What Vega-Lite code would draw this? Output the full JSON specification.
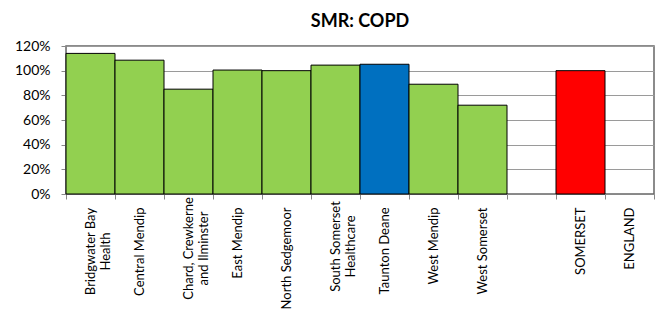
{
  "$schema": "https://vega.github.io/schema/vega-lite/v6.json",
  "autosize": {"type": "none"},
  "width": 588,
  "height": 148,
  "padding": {"left": 66, "top": 46, "right": 15, "bottom": 133},
  "background": "white",
  "title": {"text": "SMR: COPD", "font": "Lato", "fontSize": 18, "fontWeight": "bold", "color": "#000000", "offset": 8, "anchor": "middle", "frame": "group"},
  "data": {"values": [
    {"area": "Bridgwater Bay Health", "smr": 1.14, "group": "locality"},
    {"area": "Central Mendip", "smr": 1.085, "group": "locality"},
    {"area": "Chard, Crewkerne and Ilminster", "smr": 0.85, "group": "locality"},
    {"area": "East Mendip", "smr": 1.005, "group": "locality"},
    {"area": "North Sedgemoor", "smr": 1.0, "group": "locality"},
    {"area": "South Somerset Healthcare", "smr": 1.045, "group": "locality"},
    {"area": "Taunton Deane", "smr": 1.052, "group": "highlight"},
    {"area": "West Mendip", "smr": 0.89, "group": "locality"},
    {"area": "West Somerset", "smr": 0.72, "group": "locality"},
    {"area": " ", "smr": null, "group": "locality"},
    {"area": "SOMERSET", "smr": 1.0, "group": "county"},
    {"area": "ENGLAND", "smr": null, "group": "county"}
  ]},
  "mark": {"type": "bar", "stroke": "#000000", "strokeWidth": 1},
  "encoding": {
    "x": {
      "field": "area", "type": "nominal", "sort": null,
      "scale": {"domain": ["Bridgwater Bay Health", "Central Mendip", "Chard, Crewkerne and Ilminster", "East Mendip", "North Sedgemoor", "South Somerset Healthcare", "Taunton Deane", "West Mendip", "West Somerset", " ", "SOMERSET", "ENGLAND"], "paddingInner": 0, "paddingOuter": 0},
      "axis": {
        "title": null, "labelAngle": -90, "labelFont": "Lato", "labelFontSize": 13, "labelColor": "#000000",
        "labelAlign": {"condition": {"test": "indexof(['Bridgwater Bay Health', 'Chard, Crewkerne and Ilminster', 'South Somerset Healthcare'], datum.value) >= 0", "value": "center"}, "value": "right"},
        "labelPadding": {"condition": [
          {"test": "datum.value == 'Bridgwater Bay Health'", "value": 52},
          {"test": "datum.value == 'Chard, Crewkerne and Ilminster'", "value": 49},
          {"test": "datum.value == 'South Somerset Healthcare'", "value": 47}
        ], "value": 8},
        "labelBaseline": "middle", "labelLineHeight": 15,
        "labelExpr": "datum.label == 'Bridgwater Bay Health' ? ['Bridgwater Bay', 'Health'] : datum.label == 'Chard, Crewkerne and Ilminster' ? ['Chard, Crewkerne', 'and Ilminster'] : datum.label == 'South Somerset Healthcare' ? ['South Somerset', 'Healthcare'] : datum.label",
        "tickBand": "extent", "tickSize": 5, "tickColor": "#888888", "domainColor": "#888888", "grid": false
      }
    },
    "y": {
      "field": "smr", "type": "quantitative",
      "scale": {"domain": [0, 1.2], "nice": false},
      "axis": {
        "title": null, "format": ".0%", "values": [0, 0.2, 0.4, 0.6, 0.8, 1.0, 1.2],
        "labelFont": "Lato", "labelFontSize": 14, "labelColor": "#000000", "labelPadding": 11,
        "tickSize": 5, "tickColor": "#888888", "domainColor": "#888888",
        "grid": true, "gridColor": "#9a9a9a", "gridWidth": 1
      }
    },
    "color": {
      "field": "group", "type": "nominal", "legend": null,
      "scale": {"domain": ["locality", "highlight", "county"], "range": ["#92D050", "#0070C0", "#FF0000"]}
    }
  },
  "config": {"view": {"stroke": "#666666", "strokeWidth": 1.5}}
}
